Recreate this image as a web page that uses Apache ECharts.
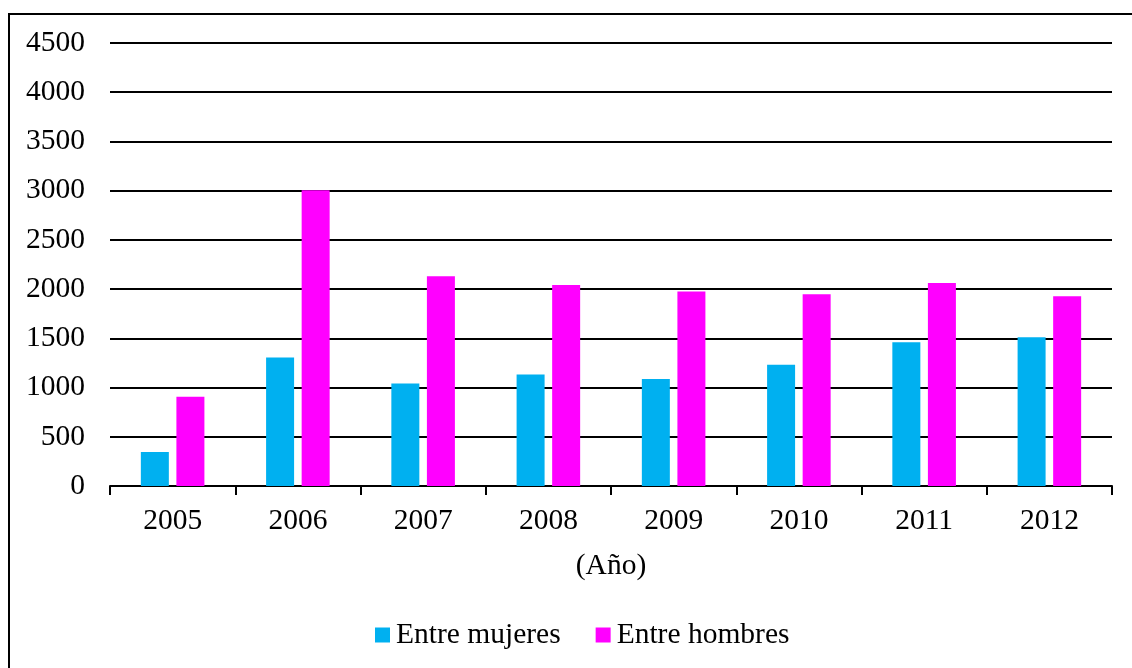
<!DOCTYPE html>
<html>
<head>
<meta charset="utf-8">
<script src="https://cdn.jsdelivr.net/npm/echarts@6/dist/echarts.min.js"></script>
<style>
html,body{margin:0;padding:0;background:#fff;}
#chart{width:1132px;height:668px;}
</style>
</head>
<body>
<div id="chart"></div>
<script>
const years = ['2005','2006','2007','2008','2009','2010','2011','2012'];
const mujeres = [345, 1305, 1042, 1133, 1086, 1232, 1459, 1510];
const hombres = [906, 3005, 2131, 2043, 1976, 1948, 2063, 1928];
const yTicks = {min: 0, max: 4500, interval: 500};
const xName = '(Año)';
const seriesNames = ['Entre mujeres', 'Entre hombres'];

const font = 'Liberation Serif';
const fs = 29.5;
const chart = echarts.init(document.getElementById('chart'));
chart.setOption({
  backgroundColor: '#fff',
  animation: false,
  textStyle: {fontFamily: font, color: '#000'},
  graphic: [{
    type: 'rect',
    shape: {x: 9, y: 14, width: 1200, height: 800},
    style: {fill: 'none', stroke: '#000', lineWidth: 2},
    silent: true
  }],
  grid: {left: 110, right: 20, top: 43, bottom: 182, containLabel: false},
  legend: {
    left: 375, top: 620, padding: 0,
    itemWidth: 15, itemHeight: 15, itemGap: 35,
    icon: 'rect',
    textStyle: {fontFamily: font, fontSize: fs, color: '#000', padding: [0, 0, 0, 1]},
    data: seriesNames
  },
  xAxis: {
    type: 'category',
    data: years,
    name: xName,
    nameLocation: 'middle',
    nameGap: 65,
    nameTextStyle: {fontFamily: font, fontSize: fs, color: '#000'},
    axisLine: {lineStyle: {color: '#000', width: 2}},
    axisTick: {show: true, length: 9, lineStyle: {color: '#000', width: 2}},
    axisLabel: {fontFamily: font, fontSize: fs, color: '#000', margin: 20}
  },
  yAxis: {
    type: 'value',
    min: yTicks.min, max: yTicks.max, interval: yTicks.interval,
    axisLine: {show: false},
    axisTick: {show: false},
    axisLabel: {fontFamily: font, fontSize: fs, color: '#000', margin: 25,
                formatter: v => String(v)},
    splitLine: {lineStyle: {color: '#000', width: 2}}
  },
  series: [
    {name: seriesNames[0], type: 'bar', data: mujeres, barWidth: 28, barGap: '27%',
     itemStyle: {color: '#00B0F0'}},
    {name: seriesNames[1], type: 'bar', data: hombres, barWidth: 28, barGap: '27%',
     itemStyle: {color: '#FF00FF'}}
  ]
});
</script>
</body>
</html>
